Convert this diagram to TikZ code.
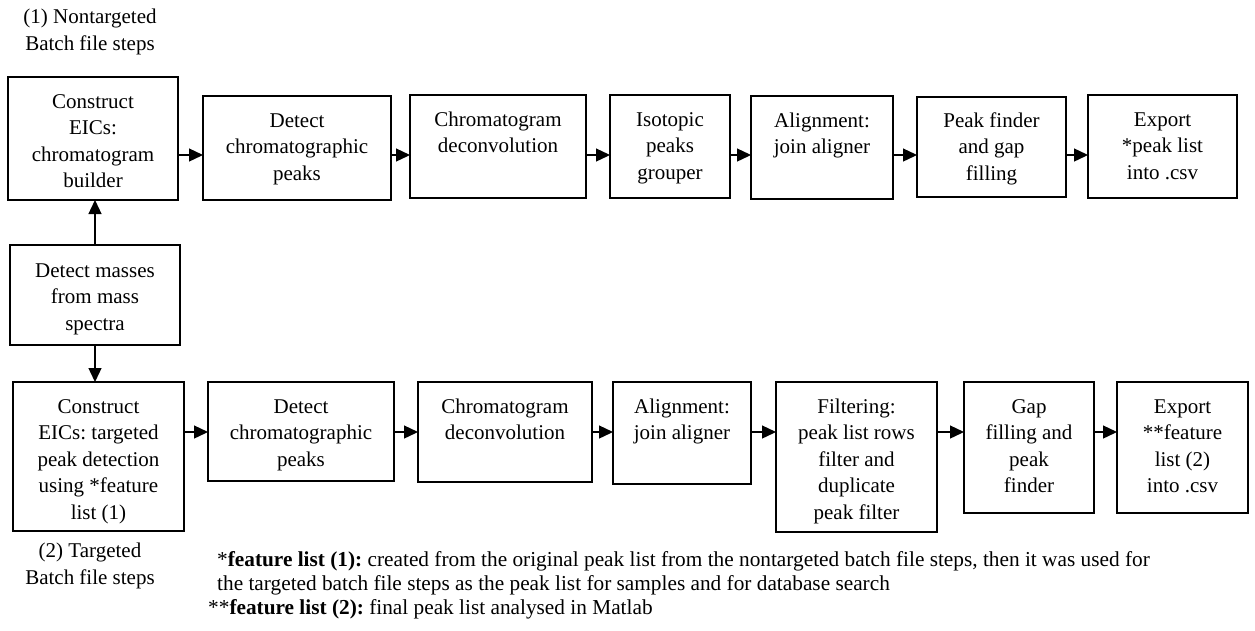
\documentclass[tikz,border=0pt]{standalone}
\usepackage{fontspec}
\setmainfont{Liberation Serif}
\usetikzlibrary{arrows.meta}
\newcommand\stepbox[5]{\node[box,minimum width={#4-#2},minimum height={#5-#3}] (#1) at ({(#2+#4)/2},{(#3+#5)/2}) {};}
\frenchspacing
\begin{document}
\begin{tikzpicture}[x=1pt,y=-1pt,
  box/.style={draw,line width=1.6pt,inner sep=0pt,outer sep=0pt,rectangle},
  txt/.style={align=center,anchor=base,inner sep=0pt,font=\fontsize{21}{26.5}\selectfont},
  note/.style={anchor=base west,inner sep=0pt,font=\fontsize{21.3}{24}\selectfont},
  arr/.style={line width=1.3pt,-{Triangle[length=14pt,width=13pt]}}]
\fill[white] (0,0) rectangle (1255,630);
\useasboundingbox (0,0) rectangle (1255,630);
% top row
\stepbox{a1}{8}{77}{178}{200}
\stepbox{a2}{203}{96}{391}{200}
\stepbox{a3}{410}{95}{586}{198}
\stepbox{a4}{610}{95}{730}{198}
\stepbox{a5}{751}{96}{893}{199}
\stepbox{a6}{917}{97}{1066}{197}
\stepbox{a7}{1088}{95}{1237}{198}
\stepbox{m}{10}{245}{180}{345}
% bottom row
\stepbox{b1}{13}{382}{184}{531}
\stepbox{b2}{208}{382}{394}{481}
\stepbox{b3}{418}{382}{592}{482}
\stepbox{b4}{613}{382}{751}{484}
\stepbox{b5}{776}{382}{937}{532}
\stepbox{b6}{964}{382}{1094}{513}
\stepbox{b7}{1117}{382}{1248}{513}
% texts (anchor = baseline of the last line)
\node[txt] (ta1) at (a1.center |- 0,187.5) {Construct\\EICs:\\chromatogram\\builder};
\node[txt] (ta2) at (a2.center |- 0,180) {Detect\\chromatographic\\peaks};
\node[txt] (ta3) at (a3.center |- 0,152.5) {Chromatogram\\deconvolution};
\node[txt] (ta4) at (a4.center |- 0,179) {Isotopic\\peaks\\grouper};
\node[txt] (ta5) at (a5.center |- 0,153.5) {Alignment:\\join aligner};
\node[txt] (ta6) at (a6.center |- 0,180) {Peak finder\\and gap\\filling};
\node[txt] (ta7) at (a7.center |- 0,179) {Export\\*peak list\\into .csv};
\node[txt] (tm) at (m.center |- 0,330) {Detect masses\\from mass\\spectra};
\node[txt] (tb1) at (b1.center |- 0,519) {Construct\\EICs: targeted\\peak detection\\using *feature\\list (1)};
\node[txt] (tb2) at (b2.center |- 0,466) {Detect\\chromatographic\\peaks};
\node[txt] (tb3) at (b3.center |- 0,439.5) {Chromatogram\\deconvolution};
\node[txt] (tb4) at (b4.center |- 0,439.5) {Alignment:\\join aligner};
\node[txt] (tb5) at (b5.center |- 0,519) {Filtering:\\peak list rows\\filter and\\duplicate\\peak filter};
\node[txt] (tb6) at (b6.center |- 0,492.5) {Gap\\filling and\\peak\\finder};
\node[txt] (tb7) at (b7.center |- 0,492.5) {Export\\**feature\\list (2)\\into .csv};
% labels
\node[txt] (l1) at (90,50) {(1) Nontargeted\\Batch file steps};
\node[txt] (l2) at (90,584) {(2) Targeted\\Batch file steps};
\node[note] (n1) at (217,566) {*\textbf{feature list (1):} created from the original peak list from the nontargeted batch file steps, then it was used for};
\node[note] (n2) at (217,590) {the targeted batch file steps as the peak list for samples and for database search};
\node[note] (n3) at (208,614) {**\textbf{feature list (2):} final peak list analysed in Matlab};
% connectors
\coordinate (yt) at (0,155);
\coordinate (yb) at (0,432);
\draw[arr] (a1.east |- yt) -- (a2.west |- yt);
\draw[arr] (a2.east |- yt) -- (a3.west |- yt);
\draw[arr] (a3.east |- yt) -- (a4.west |- yt);
\draw[arr] (a4.east |- yt) -- (a5.west |- yt);
\draw[arr] (a5.east |- yt) -- (a6.west |- yt);
\draw[arr] (a6.east |- yt) -- (a7.west |- yt);
\draw[arr] (b1.east |- yb) -- (b2.west |- yb);
\draw[arr] (b2.east |- yb) -- (b3.west |- yb);
\draw[arr] (b3.east |- yb) -- (b4.west |- yb);
\draw[arr] (b4.east |- yb) -- (b5.west |- yb);
\draw[arr] (b5.east |- yb) -- (b6.west |- yb);
\draw[arr] (b6.east |- yb) -- (b7.west |- yb);
\draw[arr] (m.north) -- (m.north |- a1.south);
\draw[arr] (m.south) -- (m.south |- b1.north);
\end{tikzpicture}
\end{document}
